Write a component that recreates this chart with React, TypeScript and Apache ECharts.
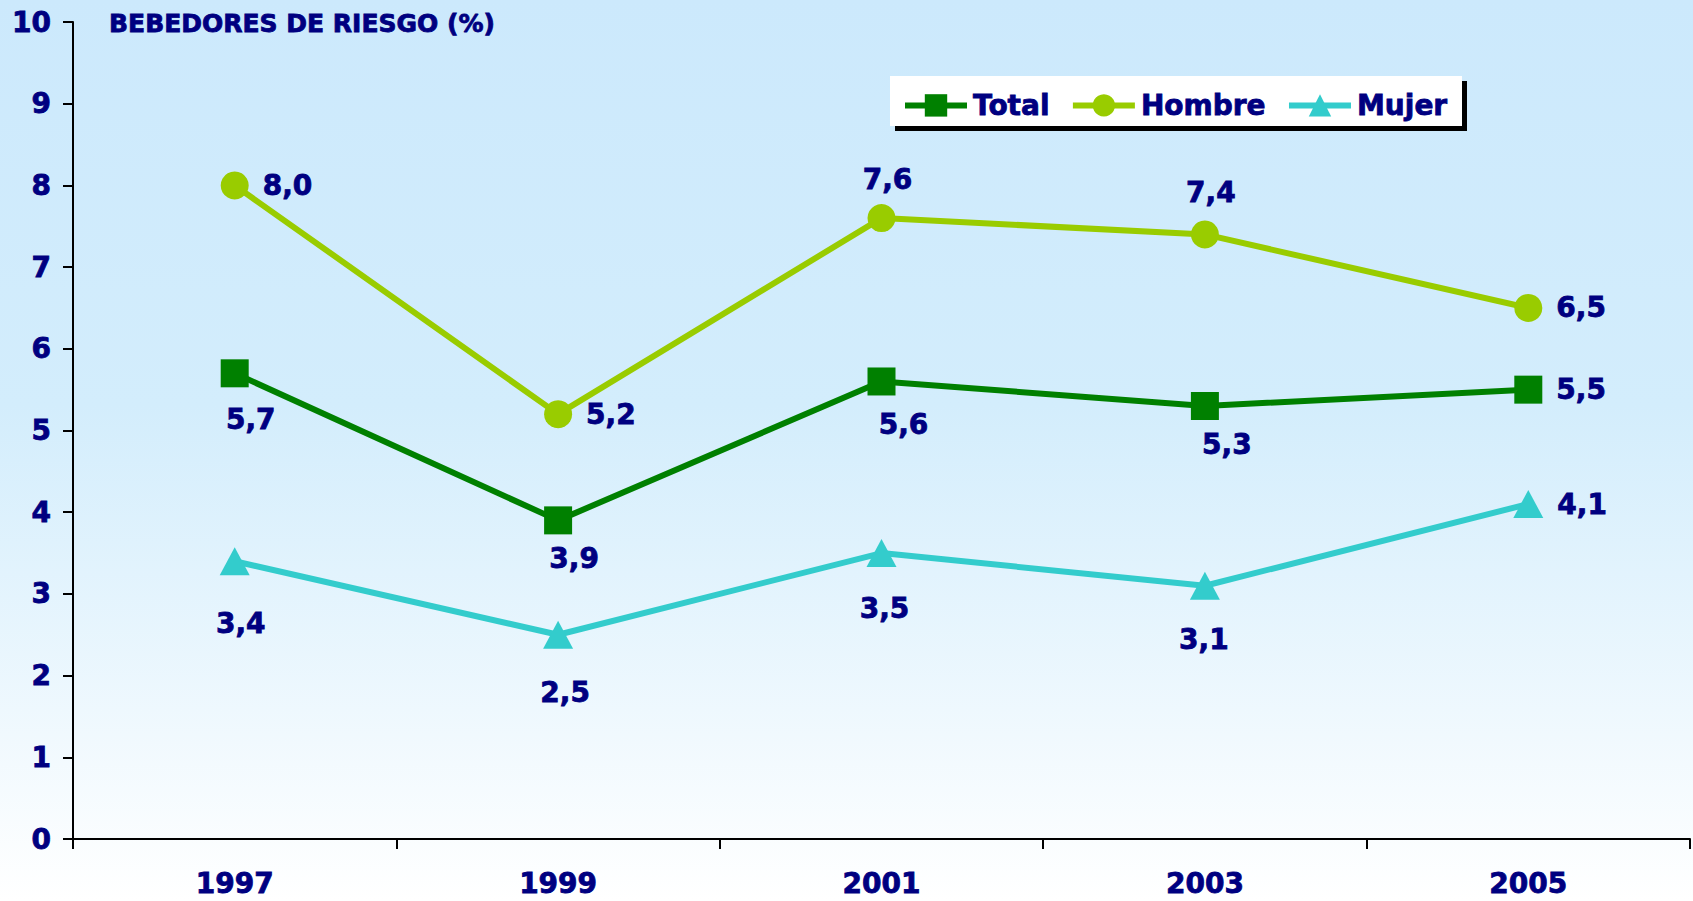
import React, { useEffect, useRef } from "react";
import * as echarts from "echarts";

const years = ["1997", "1999", "2001", "2003", "2005"];
const total = [5.7, 3.9, 5.6, 5.3, 5.5];
const hombre = [8.0, 5.2, 7.6, 7.4, 6.5];
const mujer = [3.4, 2.5, 3.5, 3.1, 4.1];
const yTicks = [0, 1, 2, 3, 4, 5, 6, 7, 8, 9, 10];

const totalLabelPos = ["bottom", "bottom", "bottom", "bottom", "right"];
const hombreLabelPos = ["right", "right", "top", "top", "right"];
const mujerLabelPos = ["bottom", "bottom", "bottom", "bottom", "right"];

const NAVY = "#000080";
const FONT = '"DejaVu Sans", Verdana, sans-serif';
const BOLDER = { textBorderColor: NAVY, textBorderWidth: 0.8 };

function fmt(v: number) {
  return v.toFixed(1).replace(".", ",");
}

function buildData(values: number[], pos: string[], dist: number[], offX: number[]) {
  return values.map((v, i) => ({
    value: v,
    label: {
      position: pos[i],
      distance: dist[i],
      offset: [pos[i] === "right" ? 0 : offX[i], 0],
    },
  }));
}

export default function App() {
  const ref = useRef<HTMLDivElement>(null);
  useEffect(() => {
    if (!ref.current) return;
    const chart = echarts.init(ref.current, null, { renderer: "svg" });
    const labelStyle = {
      show: true,
      color: NAVY,
      fontSize: 28,
      fontWeight: "bold",
      fontFamily: FONT,
      ...BOLDER,
      formatter: (p: any) => fmt(p.value),
    };
    chart.setOption({
      animation: false,
      backgroundColor: {
        type: "linear",
        x: 0,
        y: 0,
        x2: 0,
        y2: 1,
        colorStops: [
          { offset: 0, color: "#cce9fc" },
          { offset: 0.45, color: "#d3edfc" },
          { offset: 1, color: "#ffffff" },
        ],
      },
      title: {
        text: "BEBEDORES DE RIESGO (%)",
        left: 104,
        top: 6,
        textStyle: { color: NAVY, fontSize: 25, fontWeight: "bold", fontFamily: FONT, ...BOLDER },
      },
      graphic: [
        { type: "rect", z: 0, shape: { x: 895, y: 81, width: 572, height: 50 }, style: { fill: "#000000" } },
        { type: "rect", z: 1, shape: { x: 890, y: 76, width: 572, height: 50 }, style: { fill: "#ffffff" } },
      ],
      legend: {
        left: 897,
        top: 86,
        z: 10,
        itemWidth: 62,
        itemHeight: 28,
        itemGap: 20,
        lineStyle: { width: 6 },
        textStyle: { color: NAVY, fontSize: 28, fontWeight: "bold", fontFamily: FONT, padding: [0, 0, 0, 1], ...BOLDER },
        data: ["Total", "Hombre", "Mujer"],
      },
      grid: { left: 73, right: 3, top: 22, bottom: 62, containLabel: false },
      xAxis: {
        type: "category",
        data: years,
        boundaryGap: true,
        axisLine: { lineStyle: { color: "#000", width: 2 } },
        axisTick: { show: true, length: 10, inside: false, lineStyle: { color: "#000", width: 2 } },
        axisLabel: { color: NAVY, fontSize: 28, fontWeight: "bold", fontFamily: FONT, margin: 30, ...BOLDER },
        splitLine: { show: false },
      },
      yAxis: {
        type: "value",
        min: yTicks[0],
        max: yTicks[yTicks.length - 1],
        interval: 1,
        axisLine: { show: true, lineStyle: { color: "#000", width: 2 } },
        axisTick: { show: true, length: 10, lineStyle: { color: "#000", width: 2 } },
        axisLabel: { color: NAVY, fontSize: 28, fontWeight: "bold", fontFamily: FONT, margin: 22, ...BOLDER },
        splitLine: { show: false },
      },
      series: [
        {
          name: "Total",
          type: "line",
          symbol: "rect",
          symbolSize: 28,
          color: "#008000",
          lineStyle: { width: 6, color: "#008000" },
          itemStyle: { color: "#008000" },
          label: labelStyle,
          data: buildData(total, totalLabelPos, [18, 10, 15, 11, 14], [16, 16, 22, 22, 0]),
          z: 3,
        },
        {
          name: "Hombre",
          type: "line",
          symbol: "circle",
          symbolSize: 28,
          color: "#99cc00",
          lineStyle: { width: 6, color: "#99cc00" },
          itemStyle: { color: "#99cc00" },
          label: labelStyle,
          data: buildData(hombre, hombreLabelPos, [14, 14, 11, 14, 14], [0, 0, 6, 6, 0]),
          z: 3,
        },
        {
          name: "Mujer",
          type: "line",
          symbol: "triangle",
          symbolSize: [30, 28],
          color: "#33cccc",
          lineStyle: { width: 6, color: "#33cccc" },
          itemStyle: { color: "#33cccc" },
          label: labelStyle,
          data: buildData(mujer, mujerLabelPos, [34, 30, 27, 26, 14], [6, 7, 3, -1, 0]),
          z: 3,
        },
      ],
    });
    return () => chart.dispose();
  }, []);
  return (
    <div
      ref={ref}
      style={{ position: "absolute", left: 0, top: 0, width: 1693, height: 901 }}
    />
  );
}
